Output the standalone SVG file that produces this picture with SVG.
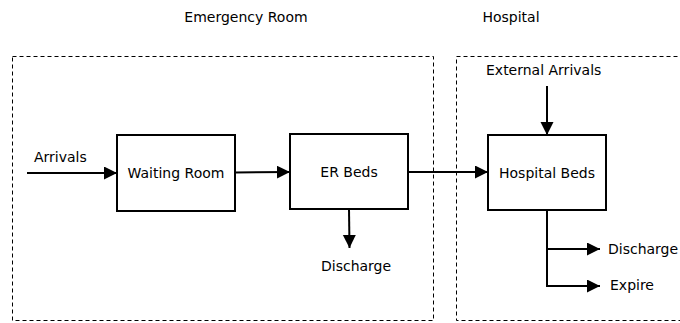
<svg xmlns="http://www.w3.org/2000/svg" width="680" height="323" viewBox="0 0 680 323">
<style>
text{font-family:"DejaVu Sans",sans-serif;font-size:14px;fill:#000}
.c{text-anchor:middle}
.area{fill:none;stroke:#000;stroke-width:1;stroke-dasharray:4,3}
.box{fill:#fff;stroke:#000;stroke-width:2}
.ln{fill:none;stroke:#000;stroke-width:2}
</style>
<defs>
<marker id="ah" markerUnits="userSpaceOnUse" markerWidth="14" markerHeight="14" refX="13" refY="6.5" orient="auto">
<path d="M0,0 L13,6.5 L0,13 z" fill="#000"/>
</marker>
</defs>
<g id="er-area">
<rect class="area" x="12.5" y="56.5" width="421" height="264"/>
<text class="c" x="246" y="22">Emergency Room</text>
</g>
<g id="hospital-area">
<rect class="area" x="456.5" y="56.5" width="240" height="264"/>
<text class="c" x="511" y="22">Hospital</text>
</g>
<g id="connectors">
<path class="ln" d="M27,173 L117,173" marker-end="url(#ah)"/>
<path class="ln" d="M235,172.5 L290,172" marker-end="url(#ah)"/>
<path class="ln" d="M408,172 L488,172" marker-end="url(#ah)"/>
<path class="ln" d="M547,86 L547,135" marker-end="url(#ah)"/>
<path class="ln" d="M349,209 L349.5,248" marker-end="url(#ah)"/>
<path class="ln" d="M547,210 L547,249 L600,249" marker-end="url(#ah)"/>
<path class="ln" d="M547,249 L547,286 L600,286" marker-end="url(#ah)"/>
</g>
<g id="waiting-room">
<rect class="box" x="117" y="135" width="118" height="76"/>
<text class="c" x="176" y="178">Waiting Room</text>
</g>
<g id="er-beds">
<rect class="box" x="290" y="134" width="118" height="75"/>
<text class="c" x="349" y="177">ER Beds</text>
</g>
<g id="hospital-beds">
<rect class="box" x="488" y="135" width="118" height="75"/>
<text class="c" x="547" y="178">Hospital Beds</text>
</g>
<g id="labels">
<text x="34" y="162">Arrivals</text>
<text x="486" y="75">External Arrivals</text>
<text x="321" y="271">Discharge</text>
<text x="608" y="254">Discharge</text>
<text x="610" y="290">Expire</text>
</g>
</svg>
